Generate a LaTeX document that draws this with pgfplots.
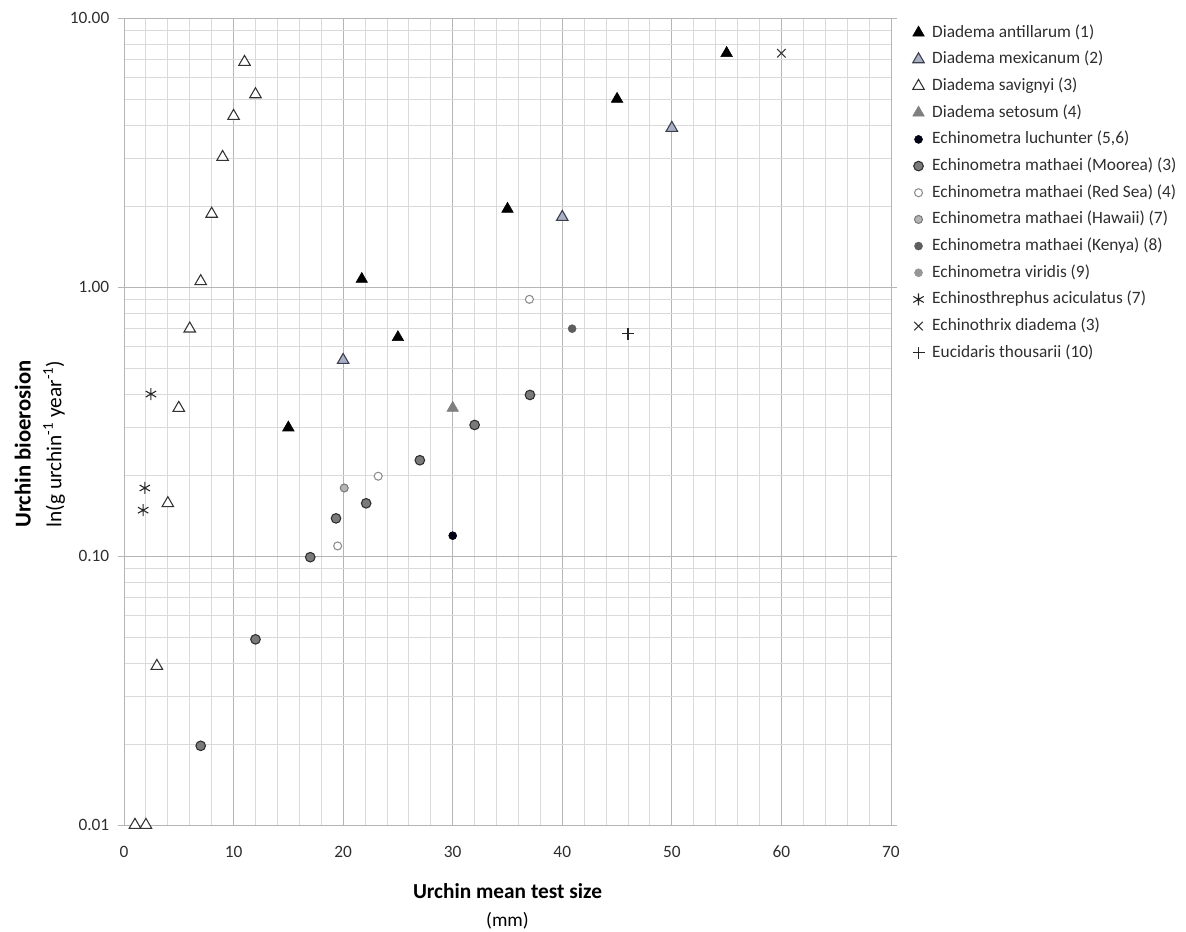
\documentclass[border=0pt]{standalone}
\usepackage{pgfplots}
\pgfplotsset{compat=1.18}
\usepackage{fontspec}
\setmainfont{Carlito}
\definecolor{gridmaj}{HTML}{B5B5B5}
\definecolor{gridmin}{HTML}{DADADA}
\definecolor{txt}{HTML}{2E2E2E}
\definecolor{mexf}{HTML}{A9B0C6}
\definecolor{mexe}{HTML}{3A3D4A}
\definecolor{setf}{HTML}{7F7F7F}
\definecolor{moof}{HTML}{7A7A7A}
\definecolor{mooe}{HTML}{2E2E2E}
\definecolor{rede}{HTML}{8C8C8C}
\definecolor{hawf}{HTML}{B4B4B4}
\definecolor{hawe}{HTML}{7C7C7C}
\definecolor{kenf}{HTML}{5E5E5E}
\definecolor{virf}{HTML}{969696}
\begin{document}
\begin{tikzpicture}
\path[use as bounding box] (-93pt,-80.25pt) rectangle (796.5pt,618.75pt);
\begin{axis}[
  at={(0,0)}, anchor=south west,
  scale only axis, width=575.25pt, height=605.25pt,
  xmin=0, xmax=70, ymin=0.01, ymax=10,
  ymode=log, log basis y=10,
  xtick={0,10,...,70},
  xticklabels={0,10,20,30,40,50,60,70},
  minor xtick={2,4,6,8,12,14,16,18,22,24,26,28,32,34,36,38,42,44,46,48,52,54,56,58,62,64,66,68},
  ytick={0.01,0.1,1,10},
  yticklabels={0.01,0.10,1.00,10.00},
  minor ytick={0.02,0.03,0.04,0.05,0.06,0.07,0.08,0.09,0.2,0.3,0.4,0.5,0.6,0.7,0.8,0.9,2,3,4,5,6,7,8,9},
  grid=both,
  major grid style={gridmaj, line width=0.7pt},
  minor grid style={gridmin, line width=0.7pt},
  axis line style={gridmaj, line width=0.7pt},
  tick align=outside,
  major tick length=4.5pt, minor tick length=0pt,
  xtick style={draw=none},
  ytick style={gridmaj, line width=0.7pt},
  tick label style={font=\fontsize{13}{15}\selectfont, text=txt},
  xticklabel style={yshift=-7pt, text height=9pt, text depth=0pt},
  yticklabel style={xshift=-3pt},
  xlabel={{\fontsize{16}{21}\selectfont\bfseries Urchin mean test size}\\(mm)},
  xlabel style={align=center, font=\fontsize{14.5}{21}\selectfont, text=black, yshift=-13pt},
  ylabel={{\fontsize{17}{23}\selectfont\bfseries Urchin bioerosion}\\ln(g urchin\textsuperscript{-1} year\textsuperscript{-1})},
  ylabel style={at={(ticklabel cs:0.472)}, align=center, font=\fontsize{16}{23}\selectfont, text=black, yshift=-3.25pt},
  legend cell align=left,
  legend style={at={(1.0225,0.999)}, anchor=north west, draw=none, fill=none,
     font=\fontsize{13}{15}\selectfont, text=txt, column sep=3.75pt,
     row sep=3.5pt, nodes={inner sep=2pt, text height=9.5pt, text depth=3pt}},
]
% Diadema antillarum (1)
\addplot[only marks, mark=triangle*, mark size=5pt, draw=black, fill=black] coordinates {
 (15,0.30) (21.7,1.07) (25,0.65) (35,1.95) (45,5.0) (55,7.4)};
\addlegendentry{Diadema antillarum (1)}
% Diadema mexicanum (2)
\addplot[only marks, mark=triangle*, mark size=5pt, draw=mexe, fill=mexf, line width=0.8pt] coordinates {
 (20,0.535) (40,1.82) (50,3.9)};
\addlegendentry{Diadema mexicanum (2)}
% Diadema savignyi (3)
\addplot[only marks, mark=triangle*, mark size=5pt, draw=black!80, fill=white, line width=0.8pt] coordinates {
 (1,0.01) (2,0.01) (3,0.039) (4,0.157) (5,0.355) (6,0.70) (7,1.05) (8,1.87) (9,3.04) (10,4.32) (11,6.86) (12,5.2)};
\addlegendentry{Diadema savignyi (3)}
% Diadema setosum (4)
\addplot[only marks, mark=triangle*, mark size=5pt, draw=setf, fill=setf] coordinates {
 (30,0.355)};
\addlegendentry{Diadema setosum (4)}
% Echinometra luchunter (5,6)
\addplot[only marks, mark=*, mark size=3pt, draw=black, fill=black!90!blue] coordinates {
 (30,0.119)};
\addlegendentry{Echinometra luchunter (5,6)}
% Echinometra mathaei (Moorea) (3)
\addplot[only marks, mark=*, mark size=3.6pt, draw=mooe, fill=moof, line width=0.8pt] coordinates {
 (7,0.0197) (12,0.049) (17,0.099) (19.35,0.138) (22.1,0.157) (27,0.227) (32,0.307) (37.05,0.397)};
\addlegendentry{Echinometra mathaei (Moorea) (3)}
% Echinometra mathaei (Red Sea) (4)
\addplot[only marks, mark=*, mark size=3pt, draw=rede, fill=white, line width=0.8pt] coordinates {
 (19.5,0.109) (23.2,0.198) (37,0.90)};
\addlegendentry{Echinometra mathaei (Red Sea) (4)}
% Echinometra mathaei (Hawaii) (7)
\addplot[only marks, mark=*, mark size=3pt, draw=hawe, fill=hawf, line width=0.8pt] coordinates {
 (20.1,0.179)};
\addlegendentry{Echinometra mathaei (Hawaii) (7)}
% Echinometra mathaei (Kenya) (8)
\addplot[only marks, mark=*, mark size=3pt, draw=kenf, fill=kenf] coordinates {
 (40.9,0.70)};
\addlegendentry{Echinometra mathaei (Kenya) (8)}
% Echinometra viridis (9)
\addlegendimage{only marks, mark=*, mark size=3pt, draw=virf, fill=virf}
\addlegendentry{Echinometra viridis (9)}
% Echinosthrephus aciculatus (7)
\addplot[only marks, mark=asterisk, mark size=4.5pt, draw=black!85, line width=0.8pt] coordinates {
 (2.46,0.40) (1.9,0.179) (1.75,0.148)};
\addlegendentry{Echinosthrephus aciculatus (7)}
% Echinothrix diadema (3)
\addplot[only marks, mark=x, mark size=4.5pt, draw=black!80, line width=0.8pt] coordinates {
 (60,7.4)};
\addlegendentry{Echinothrix diadema (3)}
% Eucidaris thousarii (10)
\addplot[only marks, mark=+, mark size=4.5pt, draw=black!85, line width=0.8pt] coordinates {
 (46,0.67)};
\addlegendentry{Eucidaris thousarii (10)}
\end{axis}
\end{tikzpicture}
\end{document}
